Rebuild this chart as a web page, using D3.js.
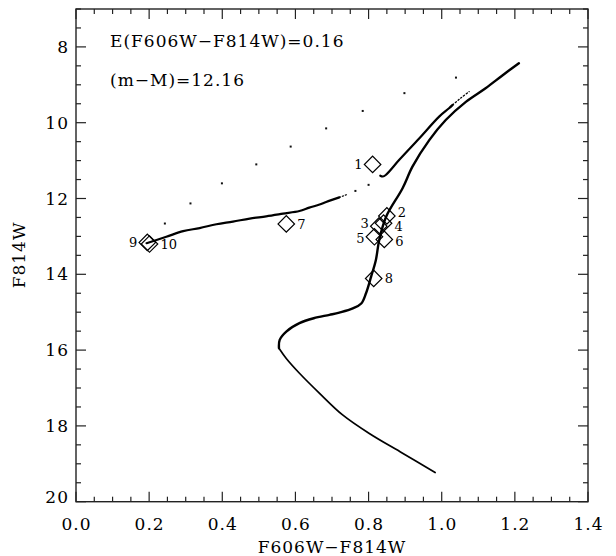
<!DOCTYPE html>
<html>
<head>
<meta charset="utf-8">
<script src="https://cdn.jsdelivr.net/npm/d3@7"></script>
<style>
  html, body { margin: 0; padding: 0; background: #fff; }
  svg text { font-family: "DejaVu Serif", serif; fill: #000; }
</style>
</head>
<body>
<svg id="chart" width="616" height="556"></svg>
<script>
// ---------------- data ----------------
const xTicks = [0.0, 0.2, 0.4, 0.6, 0.8, 1.0, 1.2, 1.4];
const yTicks = [8, 10, 12, 14, 16, 18, 20];

// lower main sequence (to turnoff)
const msColor = [0.982, 0.893, 0.802, 0.729, 0.666, 0.611, 0.575, 0.555];
const msMag   = [19.23, 18.72, 18.20, 17.71, 17.14, 16.61, 16.22, 15.95];

// turnoff, subgiant and red giant branch
const rgbColor = [0.555, 0.557, 0.575, 0.611, 0.650, 0.693, 0.720, 0.757, 0.780, 0.793, 0.807, 0.820, 0.829, 0.848, 0.893, 0.920, 0.966, 1.011, 1.066, 1.120, 1.165, 1.211];
const rgbMag   = [15.95, 15.73, 15.51, 15.29, 15.16, 15.07, 15.01, 14.90, 14.77, 14.50, 14.06, 13.62, 13.10, 12.48, 11.73, 11.16, 10.46, 9.93, 9.45, 9.09, 8.76, 8.43];

// horizontal branch
const hbColor = [0.193, 0.247, 0.293, 0.338, 0.384, 0.429, 0.475, 0.520, 0.566, 0.611, 0.638, 0.666, 0.684, 0.720];
const hbMag   = [13.18, 13.01, 12.86, 12.78, 12.68, 12.61, 12.53, 12.47, 12.40, 12.33, 12.24, 12.16, 12.09, 11.97];
const hbTailColor = [0.720, 0.740];
const hbTailMag   = [11.97, 11.90];

// asymptotic giant branch
const agbColor = [0.832, 0.839, 0.847, 0.884, 0.939, 0.993, 1.020, 1.030];
const agbMag   = [11.40, 11.42, 11.38, 10.98, 10.41, 9.84, 9.62, 9.53];
const agbTailColor = [1.030, 1.052, 1.075];
const agbTailMag   = [9.53, 9.35, 9.18];

// sparse track points
const dotColor = [0.243, 0.313, 0.399, 0.493, 0.587, 0.684, 0.784, 0.898, 1.039, 0.764, 0.800];
const dotMag   = [12.66, 12.13, 11.60, 11.10, 10.63, 10.15, 9.69, 9.22, 8.81, 11.80, 11.64];

// observed stars
const starId    = ["1", "2", "3", "4", "5", "6", "7", "8", "9", "10"];
const starColor = [0.811, 0.850, 0.828, 0.841, 0.816, 0.843, 0.575, 0.814, 0.195, 0.201];
const starMag   = [11.10, 12.46, 12.73, 12.65, 13.01, 13.08, 12.67, 14.11, 13.16, 13.20];
const starSide  = ["L", "R", "L", "R", "L", "R", "R", "R", "L", "R"];

const annotations = ["E(F606W\u2212F814W)=0.16", "(m\u2212M)=12.16"];
const xTitle = "F606W\u2212F814W";
const yTitle = "F814W";

// ---------------- layout ----------------
const svg = d3.select("#chart");
const L = 76, R = 588, T = 9, B = 501.7;
const x = d3.scaleLinear().domain([0, 1.4]).range([L, R]);
const y = d3.scaleLinear().domain([7, 20]).range([T, B]);

const ink = "#000";
const fontSize = 17;
const spacing = 1;

// frame
svg.append("rect").attr("x", L).attr("y", T).attr("width", R - L).attr("height", B - T)
  .attr("fill", "none").attr("stroke", "#222").attr("stroke-width", 1.4);

// ticks
const xMinor = d3.range(0, 1.4001, 0.05);
const yMinor = d3.range(7, 20.001, 0.5);
const tickG = svg.append("g").attr("stroke", "#222").attr("stroke-width", 1.2);
xMinor.forEach(v => {
  const major = xTicks.some(t => Math.abs(t - v) < 1e-6);
  const len = major ? 10 : 5;
  tickG.append("line").attr("x1", x(v)).attr("x2", x(v)).attr("y1", B).attr("y2", B - len);
  tickG.append("line").attr("x1", x(v)).attr("x2", x(v)).attr("y1", T).attr("y2", T + len);
});
yMinor.forEach(v => {
  const major = yTicks.some(t => Math.abs(t - v) < 1e-6);
  const len = major ? 10 : 5;
  tickG.append("line").attr("y1", y(v)).attr("y2", y(v)).attr("x1", L).attr("x2", L + len);
  tickG.append("line").attr("y1", y(v)).attr("y2", y(v)).attr("x1", R).attr("x2", R - len);
});

// tick labels
svg.append("g").selectAll("text").data(xTicks).join("text")
  .attr("x", d => x(d) + 0.5).attr("y", 530)
  .attr("text-anchor", "middle").attr("font-size", fontSize).attr("letter-spacing", spacing)
  .text(d => d.toFixed(1));
svg.append("g").selectAll("text").data(yTicks).join("text")
  .attr("x", 69).attr("y", d => y(d) + (d === 20 ? -5 : 0))
  .attr("dy", "0.36em")
  .attr("text-anchor", "end").attr("font-size", fontSize).attr("letter-spacing", spacing)
  .text(d => d);

// axis titles
svg.append("text").attr("x", 332).attr("y", 553).attr("text-anchor", "middle")
  .attr("font-size", fontSize).attr("letter-spacing", spacing).text(xTitle);
svg.append("text").attr("transform", "translate(25,255) rotate(-90)").attr("text-anchor", "middle")
  .attr("font-size", fontSize).attr("letter-spacing", spacing).text(yTitle);

// annotations
annotations.forEach((t, i) => {
  svg.append("text").attr("x", 110).attr("y", 47 + i * 39)
    .attr("font-size", fontSize).attr("letter-spacing", spacing).text(t);
});

// ---------------- curves ----------------
const line = d3.line().x(d => x(d[0])).y(d => y(d[1])).curve(d3.curveCatmullRom.alpha(0.5));
const zip = (a, b) => a.map((v, i) => [v, b[i]]);
const plot = svg.append("g").attr("fill", "none").attr("stroke", ink)
  .attr("stroke-linecap", "round").attr("stroke-linejoin", "round");

plot.append("path").attr("d", line(zip(msColor, msMag))).attr("stroke-width", 1.7);
plot.append("path").attr("d", line(zip(rgbColor, rgbMag))).attr("stroke-width", 2.4);
plot.append("path").attr("d", line(zip(hbColor, hbMag))).attr("stroke-width", 2.2);
plot.append("path").attr("d", line(zip(hbTailColor, hbTailMag))).attr("stroke-width", 1.2)
  .attr("stroke-dasharray", "1.2,2");
plot.append("path").attr("d", line(zip(agbColor, agbMag))).attr("stroke-width", 2.2);
plot.append("path").attr("d", line(zip(agbTailColor, agbTailMag))).attr("stroke-width", 1.3)
  .attr("stroke-dasharray", "1.3,2.2");

// sparse points
svg.append("g").selectAll("rect").data(zip(dotColor, dotMag)).join("rect")
  .attr("x", d => x(d[0]) - 1).attr("y", d => y(d[1]) - 1)
  .attr("width", 2).attr("height", 2).attr("fill", "#111");

// stars
const diamond = d3.symbol().type(d3.symbolSquare).size(136);
const stars = starId.map((id, i) => ({ id, c: starColor[i], m: starMag[i], side: starSide[i] }));
// small vertical nudges for crowded labels (layout only)
const labelNudge = { "2": -4, "3": -3, "4": 3.5, "5": 2, "6": 2 };
const sg = svg.append("g");
sg.selectAll("path").data(stars).join("path")
  .attr("d", diamond)
  .attr("transform", d => `translate(${x(d.c)},${y(d.m)}) rotate(45)`)
  .attr("fill", "none").attr("stroke", ink).attr("stroke-width", 1.2);
sg.selectAll("text").data(stars).join("text")
  .attr("x", d => x(d.c) + (d.side === "L" ? -10 : 11))
  .attr("y", d => y(d.m) + (labelNudge[d.id] || 0))
  .attr("dy", "0.36em")
  .attr("text-anchor", d => d.side === "L" ? "end" : "start")
  .attr("font-size", 13)
  .text(d => d.id);
</script>
</body>
</html>
